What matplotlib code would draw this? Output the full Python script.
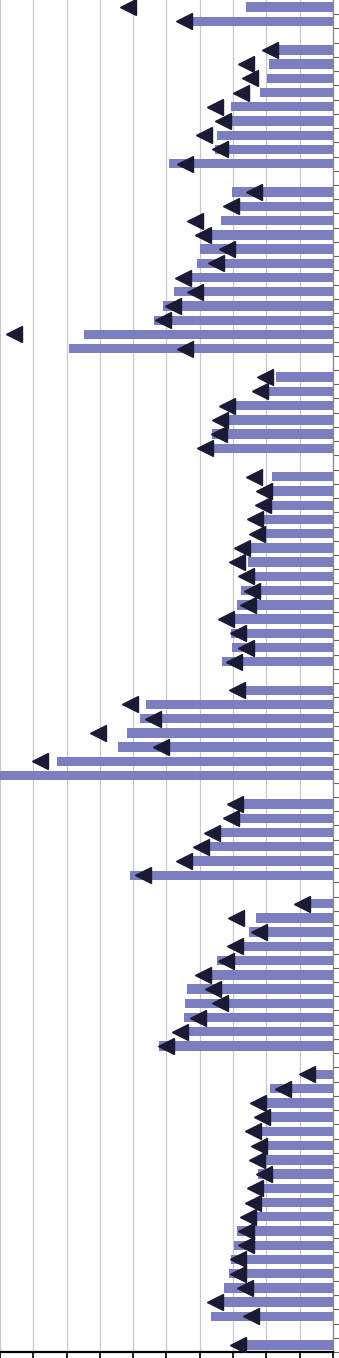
import numpy as np
import matplotlib
matplotlib.use("Agg")
import matplotlib.pyplot as plt

# One entry per row, top to bottom; None marks the blank spacer rows
bar_values = [
    2.62, 4.35, None,
    1.69, 1.93, 1.98, 2.19, 3.07, 3.08, 3.47, 3.54, 4.93, None,
    3.02, 2.95, 3.37, 3.75, 3.98, 4.08, 4.30, 4.78, 5.10, 5.38, 7.49, 7.94, None,
    1.71, 1.96, 2.97, 3.19, 3.63, 3.67, None,
    1.82, 1.86, 1.91, 2.12, 2.06, 2.51, 2.54, 2.37, 2.77, 2.87, 2.98, 3.07, 3.02, 3.32, None,
    2.66, 5.62, 5.80, 6.19, 6.45, 8.29, 10.5, None,
    2.74, 2.85, 3.42, 3.73, 4.26, 6.10, None,
    0.74, 2.32, 2.53, 2.74, 3.47, 3.67, 4.38, 4.44, 4.48, 4.37, 5.22, None,
    0.57, 1.88, 2.02, 1.92, 2.12, 1.99, 2.06, 2.26, 2.11, 2.19, 2.34, 2.87, 2.98,
    3.07, 3.13, 3.28, 3.34, 3.67, None,
    2.64,
]

marker_values = [
    6.16, 4.46, None,
    1.88, 2.61, 2.48, 2.75, 3.54, 3.29, 3.88, 3.38, 4.44, None,
    2.38, 3.06, 4.14, 3.89, 3.19, 3.51, 4.50, 4.13, 4.81, 5.10, 9.58, 4.43, None,
    2.05, 2.18, 3.18, 3.40, 3.42, 3.85, None,
    2.38, 2.06, 2.11, 2.34, 2.28, 2.73, 2.88, 2.60, 2.43, 2.56, 3.22, 2.86, 2.60, 2.98, None,
    2.88, 6.09, 5.42, 7.05, 5.17, 8.80, None, None,
    2.95, 3.07, 3.64, 3.95, 4.48, 5.71, None,
    0.94, 2.91, 2.23, 2.95, 3.22, 3.89, 3.61, 3.40, 4.04, 4.59, 5.02, None,
    0.79, 1.51, 2.25, 2.14, 2.41, 2.21, 2.28, 2.08, 2.33, 2.41, 2.56, 2.62, 2.62,
    2.85, 2.84, 2.65, 3.55, 2.45, None,
    2.86,
]

x_max = 10

bars = np.array([np.nan if v is None else v for v in bar_values])
marks = np.array([np.nan if v is None else v for v in marker_values])
n_rows = len(bars)
rows = np.arange(n_rows)

fig = plt.figure(figsize=(3.39, 13.58), dpi=100)
ax = fig.add_axes([0, 6 / 1358, 333 / 339, 1352 / 1358])

ax.barh(rows, np.nan_to_num(bars), height=0.66, color="#7b7fbf", zorder=2)
ax.plot(marks, rows, "<", color="#1a1a35", markersize=11, zorder=3)

# Reversed x axis: bars grow from the right edge
ax.set_xlim(x_max, 0)
ax.set_ylim(n_rows - 0.5, -0.5)

ax.set_xticks(np.arange(0, x_max + 1, 1))
ax.set_yticks(np.arange(0.5, n_rows, 1))
ax.xaxis.grid(True, color="#c8c8c8", linewidth=0.9, zorder=0)
ax.set_axisbelow(True)

ax.yaxis.tick_right()
ax.tick_params(axis="y", direction="out", length=4.3, width=0.8,
               color="#666666", labelright=False, labelleft=False)
ax.tick_params(axis="x", direction="out", length=4.0, width=1.2,
               color="black", labelbottom=False)

ax.spines["top"].set_visible(False)
ax.spines["left"].set_visible(False)
ax.spines["right"].set_color("#888888")
ax.spines["right"].set_linewidth(0.9)
ax.spines["bottom"].set_color("black")
ax.spines["bottom"].set_linewidth(1.6)

plt.savefig("out.png", dpi=100)
